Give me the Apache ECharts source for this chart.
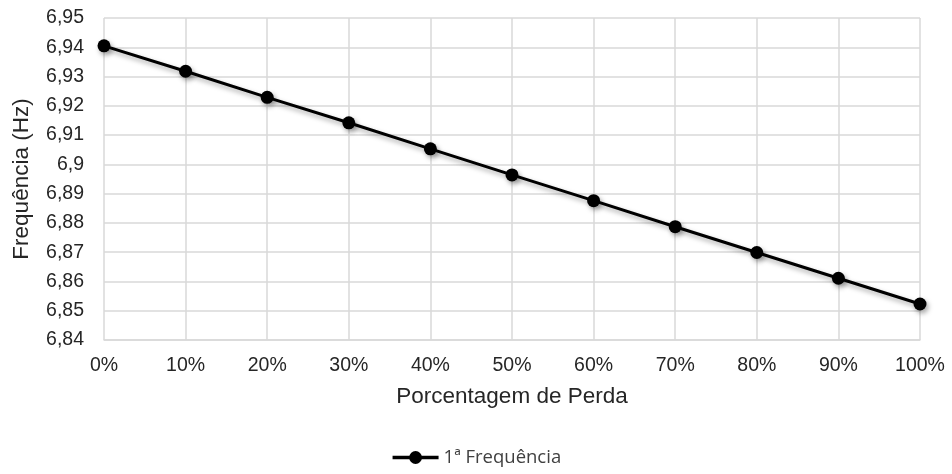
<!DOCTYPE html>
<html><head><meta charset="utf-8">
<script src="https://cdn.jsdelivr.net/npm/echarts@6/dist/echarts.min.js"></script>
<style>html,body{margin:0;padding:0;background:#fff}#c{width:952px;height:474px}</style>
</head><body><div id="c"></div>
<script>
const categories = ['0%','10%','20%','30%','40%','50%','60%','70%','80%','90%','100%'];
const freq1 = [6.9405, 6.9318, 6.9229, 6.9142, 6.9053, 6.8964, 6.8876, 6.8787, 6.8699, 6.8611, 6.8523];
const seriesName = '1ª Frequência';
const yMin = 6.84, yMax = 6.95, yStep = 0.01;

const chart = echarts.init(document.getElementById('c'));
chart.setOption({
  animation: false,
  grid: {left: 104, right: 32, top: 18, bottom: 134},
  xAxis: {
    type: 'category', data: categories, boundaryGap: false,
    name: 'Porcentagem de Perda', nameLocation: 'middle', nameGap: 45,
    nameTextStyle: {fontFamily: 'Liberation Sans', fontSize: 22.5, color: '#262626'},
    axisLine: {lineStyle: {color: '#d9d9d9', width: 1.5}},
    axisTick: {show: false},
    axisLabel: {fontFamily: 'Liberation Sans', fontSize: 19.5, color: '#262626', margin: 16},
    splitLine: {show: true, lineStyle: {color: '#d9d9d9', width: 1.5}}
  },
  yAxis: {
    type: 'value', min: yMin, max: yMax, interval: yStep,
    name: 'Frequência (Hz)', nameLocation: 'middle', nameGap: 71,
    nameTextStyle: {fontFamily: 'Liberation Sans', fontSize: 22.5, color: '#262626'},
    axisLine: {show: false}, axisTick: {show: false},
    axisLabel: {fontFamily: 'Liberation Sans', fontSize: 19.5, color: '#262626', margin: 20,
      formatter: v => String(+v.toFixed(2)).replace('.', ',')},
    splitLine: {lineStyle: {color: '#d9d9d9', width: 1.5}}
  },
  legend: {
    bottom: 2, left: 'center', itemWidth: 46, itemHeight: 16, itemGap: 4,
    textStyle: {fontFamily: 'Open Sans', fontSize: 18.5, color: '#404040'},
    lineStyle: {width: 3.5, color: '#000', shadowBlur: 0, shadowColor: 'transparent'},
    itemStyle: {color: '#000', shadowBlur: 0, shadowColor: 'transparent'},
    data: [seriesName]
  },
  series: [{
    name: seriesName, type: 'line', data: freq1,
    symbol: 'circle', symbolSize: 13,
    lineStyle: {color: '#000', width: 3, shadowBlur: 5, shadowColor: 'rgba(0,0,0,0.35)', shadowOffsetX: 2, shadowOffsetY: 3},
    itemStyle: {color: '#000', shadowBlur: 5, shadowColor: 'rgba(0,0,0,0.35)', shadowOffsetX: 2, shadowOffsetY: 3}
  }]
});
</script></body></html>
